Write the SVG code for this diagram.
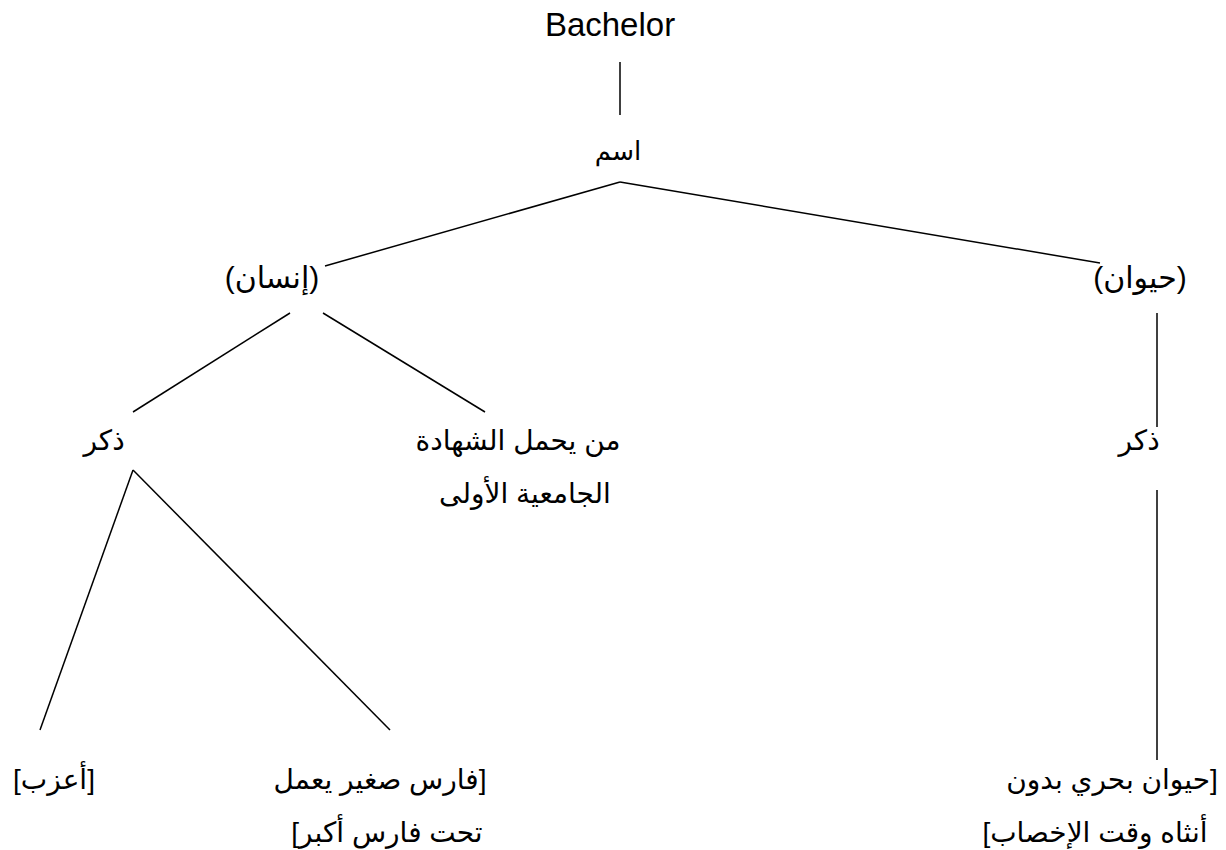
<svg xmlns="http://www.w3.org/2000/svg" width="1226" height="850" viewBox="0 0 1226 850">
<style>
.t{font-family:"Liberation Sans","DejaVu Sans",Arial,sans-serif;font-size:28px;fill:#000;text-anchor:middle}
.en{font-size:33px}
.p{font-size:30px}
.ar{direction:rtl;unicode-bidi:embed}
.c line{stroke:#000;stroke-width:1.5}
</style>
<rect width="1226" height="850" fill="#fff"/>
<g class="c" id="connectors">
<line x1="620" y1="62" x2="620" y2="115"/>
<line x1="620" y1="182" x2="325" y2="266"/>
<line x1="620" y1="182" x2="1100" y2="263"/>
<line x1="290" y1="313" x2="133" y2="412"/>
<line x1="323" y1="313" x2="485" y2="412"/>
<line x1="1157" y1="313" x2="1157" y2="427"/>
<line x1="133" y1="470" x2="40" y2="730"/>
<line x1="133" y1="470" x2="390" y2="730"/>
<line x1="1157" y1="490" x2="1157" y2="760"/>
</g>
<g id="n-bachelor"><text class="t en" x="610" y="36">Bachelor</text></g>
<g id="n-ism"><text class="t ar" x="618" y="160" style="font-size:26px">اسم</text></g>
<g id="n-insan"><text class="t p ar" x="272" y="288">(إنسان)</text></g>
<g id="n-hayawan"><text class="t p ar" x="1140" y="288">(حيوان)</text></g>
<g id="n-dhakar1"><text class="t ar" x="104" y="450">ذكر</text></g>
<g id="n-degree"><text class="t ar" x="518" y="450">من يحمل الشهادة</text><text class="t ar" x="525" y="503">الجامعية الأولى</text></g>
<g id="n-dhakar2"><text class="t ar" x="1139" y="450">ذكر</text></g>
<g id="n-aazab"><text class="t ar" x="54" y="789">[أعزب]</text></g>
<g id="n-faris"><text class="t ar" x="380" y="789">[فارس صغير يعمل</text><text class="t ar" x="387" y="842">تحت فارس أكبر]</text></g>
<g id="n-sea"><text class="t ar" x="1112" y="789">[حيوان بحري بدون</text><text class="t ar" x="1095" y="842">أنثاه وقت الإخصاب]</text></g>
</svg>
